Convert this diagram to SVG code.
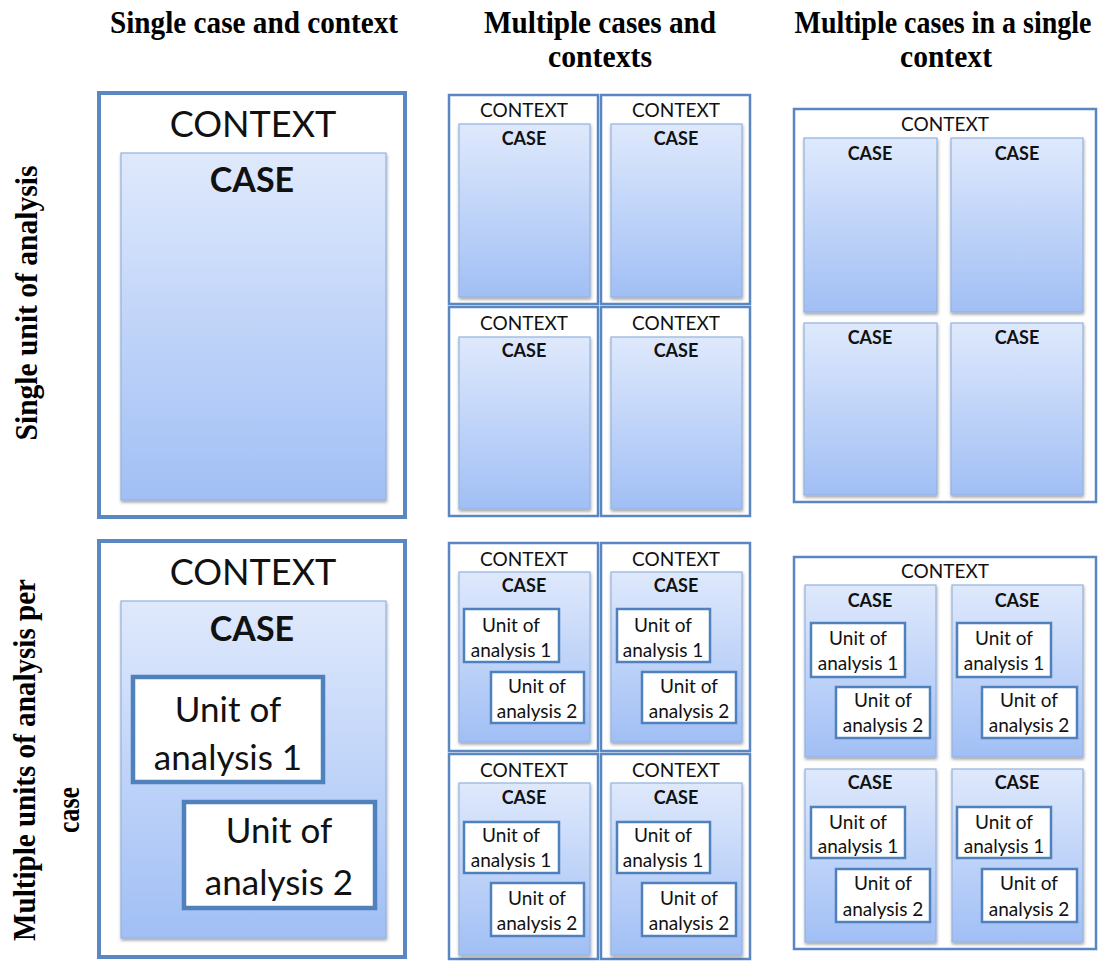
<svg xmlns="http://www.w3.org/2000/svg" width="1105" height="961" viewBox="0 0 1105 961">
  <defs>
    <linearGradient id="caseFill" x1="0" y1="0" x2="0" y2="1">
      <stop offset="0" stop-color="#dfe9fc"/>
      <stop offset="1" stop-color="#a1bff5"/>
    </linearGradient>
    <filter id="shadow" x="-10%" y="-10%" width="120%" height="120%">
      <feDropShadow dx="0.5" dy="2" stdDeviation="1.5" flood-color="#000" flood-opacity="0.35"/>
    </filter>
  </defs>
  <style>
    .frame { fill: #ffffff; stroke: #5a86c1; stroke-width: 2.5; }
    .frame-big { fill: #ffffff; stroke: #5a86c1; stroke-width: 4; }
    .case { fill: url(#caseFill); stroke: #94b2de; stroke-width: 1.2; filter: url(#shadow); }
    .unit { fill: #ffffff; stroke: #4f81bd; stroke-width: 2.5; }
    .unit-big { fill: #ffffff; stroke: #4f81bd; stroke-width: 4.5; }
    .head { font-family: "Liberation Serif", "Times New Roman", serif; font-weight: bold; font-size: 31px; fill: #000; text-anchor: middle; }
    .head-narrow { font-size: 28px; }
    text.t { font-family: Lato, "Liberation Sans", sans-serif; fill: #111; text-anchor: middle; }
    .ctx-big { font-size: 36px; }
    .case-big { font-size: 34px; font-weight: bold; }
    .unit-txt-big { font-size: 35px; }
    .ctx { font-size: 19px; }
    .case-lbl { font-size: 18px; font-weight: bold; }
    .unit-txt { font-size: 19px; }
  </style>

  <rect width="1105" height="961" fill="#ffffff"/>

  <!-- column headings -->
  <g id="headings">
    <text class="head" x="254" y="33" textLength="288" lengthAdjust="spacingAndGlyphs">Single case and context</text>
    <text class="head" x="600" y="33" textLength="232" lengthAdjust="spacingAndGlyphs">Multiple cases and</text>
    <text class="head" x="600" y="67" textLength="104" lengthAdjust="spacingAndGlyphs">contexts</text>
    <text class="head head-narrow" transform="translate(943,33) scale(1,1.1)">Multiple cases in a single</text>
    <text class="head" x="946" y="67" textLength="92" lengthAdjust="spacingAndGlyphs">context</text>
  </g>

  <!-- row headings -->
  <g id="row-labels">
    <text class="head" transform="translate(37,303) rotate(-90)" textLength="275" lengthAdjust="spacingAndGlyphs">Single unit of analysis</text>
    <text class="head" transform="translate(35,760) rotate(-90)" textLength="362" lengthAdjust="spacingAndGlyphs">Multiple units of analysis per</text>
    <text class="head" transform="translate(79,810) rotate(-90)" textLength="46" lengthAdjust="spacingAndGlyphs">case</text>
  </g>

  <!-- single case, single unit -->
  <g id="single-single">
    <rect class="frame-big" x="99" y="93" width="306" height="424"/>
    <text class="t ctx-big" x="253" y="137">CONTEXT</text>
    <rect class="case" x="121" y="153" width="265" height="347"/>
    <text class="t case-big" x="252" y="192">CASE</text>
  </g>

  <!-- multiple cases and contexts, single unit -->
  <g id="multi-ctx-single">
    <g id="mcs-1">
      <rect class="frame" x="449" y="95" width="149" height="209"/>
      <text class="t ctx" x="524" y="117">CONTEXT</text>
      <rect class="case" x="459" y="124" width="131" height="173"/>
      <text class="t case-lbl" x="524" y="145">CASE</text>
    </g>
    <g id="mcs-2">
      <rect class="frame" x="601" y="95" width="149" height="209"/>
      <text class="t ctx" x="676" y="117">CONTEXT</text>
      <rect class="case" x="611" y="124" width="131" height="173"/>
      <text class="t case-lbl" x="676" y="145">CASE</text>
    </g>
    <g id="mcs-3">
      <rect class="frame" x="449" y="307" width="149" height="209"/>
      <text class="t ctx" x="524" y="330">CONTEXT</text>
      <rect class="case" x="459" y="337" width="131" height="172"/>
      <text class="t case-lbl" x="524" y="357">CASE</text>
    </g>
    <g id="mcs-4">
      <rect class="frame" x="601" y="307" width="149" height="209"/>
      <text class="t ctx" x="676" y="330">CONTEXT</text>
      <rect class="case" x="611" y="337" width="131" height="172"/>
      <text class="t case-lbl" x="676" y="357">CASE</text>
    </g>
  </g>

  <!-- multiple cases in one context, single unit -->
  <g id="one-ctx-single">
    <rect class="frame" x="794" y="109" width="302" height="393"/>
    <text class="t ctx" x="945" y="131">CONTEXT</text>
    <g id="ocs-1">
      <rect class="case" x="804" y="138" width="133" height="174"/>
      <text class="t case-lbl" x="870" y="160">CASE</text>
    </g>
    <g id="ocs-2">
      <rect class="case" x="951" y="138" width="132" height="174"/>
      <text class="t case-lbl" x="1017" y="160">CASE</text>
    </g>
    <g id="ocs-3">
      <rect class="case" x="804" y="323" width="133" height="172"/>
      <text class="t case-lbl" x="870" y="344">CASE</text>
    </g>
    <g id="ocs-4">
      <rect class="case" x="951" y="323" width="132" height="172"/>
      <text class="t case-lbl" x="1017" y="344">CASE</text>
    </g>
  </g>

  <!-- single case, multiple units -->
  <g id="single-multi">
    <rect class="frame-big" x="99" y="541" width="306" height="416"/>
    <text class="t ctx-big" x="253" y="585">CONTEXT</text>
    <rect class="case" x="121" y="601" width="265" height="337"/>
    <text class="t case-big" x="252" y="641">CASE</text>
    <g id="sm-unit1">
      <rect class="unit-big" x="133" y="677" width="190" height="105"/>
      <text class="t unit-txt-big" x="228" y="722">Unit of</text>
      <text class="t unit-txt-big" x="228" y="770">analysis 1</text>
    </g>
    <g id="sm-unit2">
      <rect class="unit-big" x="184" y="802" width="191" height="106"/>
      <text class="t unit-txt-big" x="279" y="843">Unit of</text>
      <text class="t unit-txt-big" x="279" y="895">analysis 2</text>
    </g>
  </g>

  <!-- multiple cases and contexts, multiple units -->
  <g id="multi-ctx-multi">
    <g id="mcm-1">
      <rect class="frame" x="449" y="543" width="149" height="208"/>
      <text class="t ctx" x="524" y="566">CONTEXT</text>
      <rect class="case" x="459" y="572" width="131" height="170"/>
      <text class="t case-lbl" x="524" y="592">CASE</text>
      <rect class="unit" x="464" y="609" width="95" height="53"/>
      <text class="t unit-txt" x="511" y="632">Unit of</text>
      <text class="t unit-txt" x="511" y="657">analysis 1</text>
      <rect class="unit" x="491" y="672" width="93" height="51"/>
      <text class="t unit-txt" x="537" y="693">Unit of</text>
      <text class="t unit-txt" x="537" y="718">analysis 2</text>
    </g>
    <g id="mcm-2">
      <rect class="frame" x="601" y="543" width="149" height="208"/>
      <text class="t ctx" x="676" y="566">CONTEXT</text>
      <rect class="case" x="611" y="572" width="131" height="170"/>
      <text class="t case-lbl" x="676" y="592">CASE</text>
      <rect class="unit" x="617" y="609" width="93" height="53"/>
      <text class="t unit-txt" x="663" y="632">Unit of</text>
      <text class="t unit-txt" x="663" y="657">analysis 1</text>
      <rect class="unit" x="642" y="672" width="94" height="51"/>
      <text class="t unit-txt" x="689" y="693">Unit of</text>
      <text class="t unit-txt" x="689" y="718">analysis 2</text>
    </g>
    <g id="mcm-3">
      <rect class="frame" x="449" y="754" width="149" height="205"/>
      <text class="t ctx" x="524" y="777">CONTEXT</text>
      <rect class="case" x="459" y="783" width="131" height="172"/>
      <text class="t case-lbl" x="524" y="804">CASE</text>
      <rect class="unit" x="464" y="822" width="95" height="51"/>
      <text class="t unit-txt" x="511" y="842">Unit of</text>
      <text class="t unit-txt" x="511" y="867">analysis 1</text>
      <rect class="unit" x="491" y="883" width="93" height="53"/>
      <text class="t unit-txt" x="537" y="905">Unit of</text>
      <text class="t unit-txt" x="537" y="930">analysis 2</text>
    </g>
    <g id="mcm-4">
      <rect class="frame" x="601" y="754" width="149" height="205"/>
      <text class="t ctx" x="676" y="777">CONTEXT</text>
      <rect class="case" x="611" y="783" width="131" height="172"/>
      <text class="t case-lbl" x="676" y="804">CASE</text>
      <rect class="unit" x="617" y="822" width="93" height="51"/>
      <text class="t unit-txt" x="663" y="842">Unit of</text>
      <text class="t unit-txt" x="663" y="867">analysis 1</text>
      <rect class="unit" x="642" y="883" width="94" height="53"/>
      <text class="t unit-txt" x="689" y="905">Unit of</text>
      <text class="t unit-txt" x="689" y="930">analysis 2</text>
    </g>
  </g>

  <!-- multiple cases in one context, multiple units -->
  <g id="one-ctx-multi">
    <rect class="frame" x="794" y="557" width="302" height="392"/>
    <text class="t ctx" x="945" y="578">CONTEXT</text>
    <g id="ocm-1">
      <rect class="case" x="805" y="585" width="131" height="172"/>
      <text class="t case-lbl" x="870" y="607">CASE</text>
      <rect class="unit" x="811" y="623" width="94" height="54"/>
      <text class="t unit-txt" x="858" y="645">Unit of</text>
      <text class="t unit-txt" x="858" y="670">analysis 1</text>
      <rect class="unit" x="836" y="687" width="94" height="51"/>
      <text class="t unit-txt" x="883" y="707">Unit of</text>
      <text class="t unit-txt" x="883" y="732">analysis 2</text>
    </g>
    <g id="ocm-2">
      <rect class="case" x="952" y="585" width="131" height="172"/>
      <text class="t case-lbl" x="1017" y="607">CASE</text>
      <rect class="unit" x="957" y="623" width="94" height="54"/>
      <text class="t unit-txt" x="1004" y="645">Unit of</text>
      <text class="t unit-txt" x="1004" y="670">analysis 1</text>
      <rect class="unit" x="982" y="687" width="95" height="51"/>
      <text class="t unit-txt" x="1029" y="707">Unit of</text>
      <text class="t unit-txt" x="1029" y="732">analysis 2</text>
    </g>
    <g id="ocm-3">
      <rect class="case" x="805" y="769" width="131" height="173"/>
      <text class="t case-lbl" x="870" y="789">CASE</text>
      <rect class="unit" x="811" y="807" width="94" height="51"/>
      <text class="t unit-txt" x="858" y="829">Unit of</text>
      <text class="t unit-txt" x="858" y="853">analysis 1</text>
      <rect class="unit" x="836" y="869" width="94" height="53"/>
      <text class="t unit-txt" x="883" y="890">Unit of</text>
      <text class="t unit-txt" x="883" y="916">analysis 2</text>
    </g>
    <g id="ocm-4">
      <rect class="case" x="952" y="769" width="131" height="173"/>
      <text class="t case-lbl" x="1017" y="789">CASE</text>
      <rect class="unit" x="957" y="807" width="94" height="51"/>
      <text class="t unit-txt" x="1004" y="829">Unit of</text>
      <text class="t unit-txt" x="1004" y="853">analysis 1</text>
      <rect class="unit" x="982" y="869" width="95" height="53"/>
      <text class="t unit-txt" x="1029" y="890">Unit of</text>
      <text class="t unit-txt" x="1029" y="916">analysis 2</text>
    </g>
  </g>

  <!-- no connectors in this figure -->
  <g id="connectors"/>
</svg>
